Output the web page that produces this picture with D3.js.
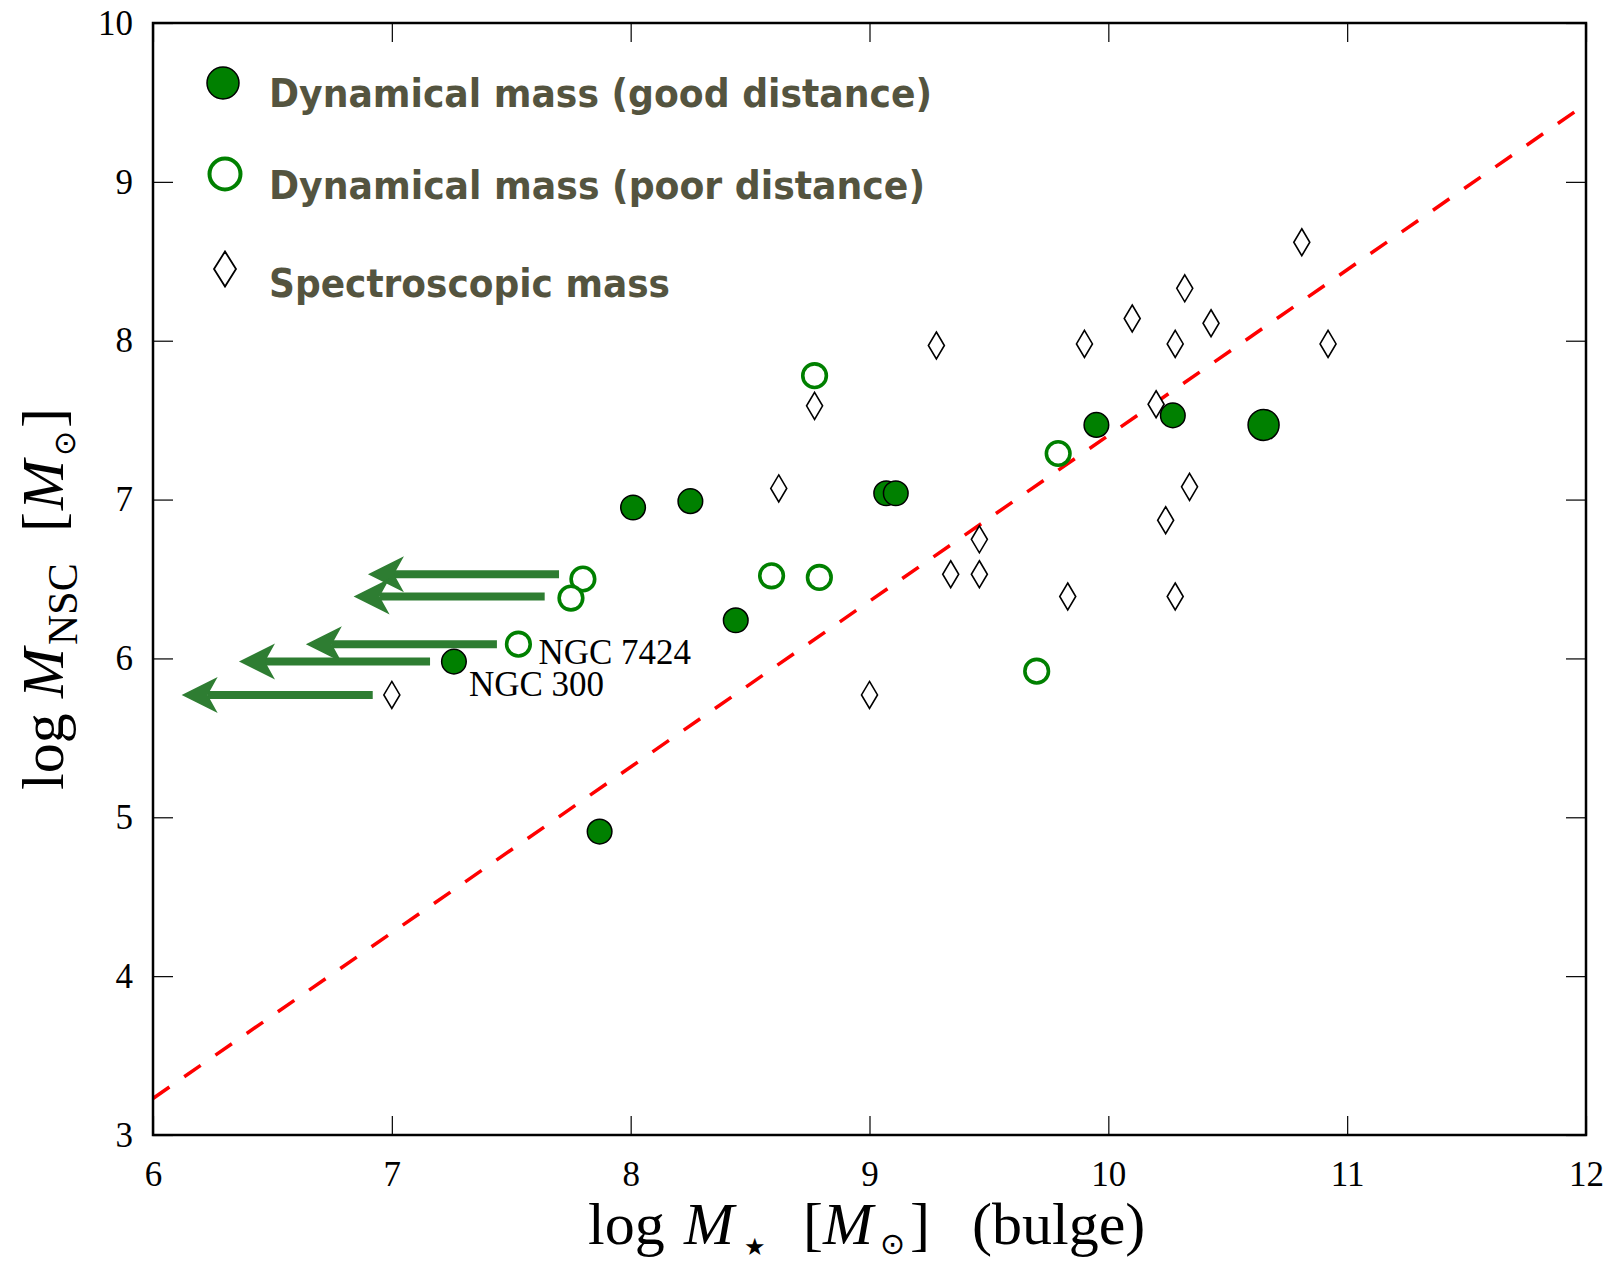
<!DOCTYPE html>
<meta charset="utf-8">
<script src="https://cdn.jsdelivr.net/npm/d3@7"></script>
<style>
    body { margin: 0; background: #fff; }
    svg text { font-family: "Liberation Serif", "Times New Roman", serif; }
    .legend text { font-family: "DejaVu Sans Condensed", "DejaVu Sans", sans-serif; font-weight: bold; fill: #54543f; }
</style>
<body>
<script>
    // nuclear star cluster mass vs bulge mass
    // dynamical masses, good distance
    var goodX = [7.26, 7.87, 8.01, 8.25, 8.44, 9.07, 9.11, 9.95, 10.27, 10.65];
    var goodY = [5.98, 4.91, 6.95, 6.99, 6.24, 7.04, 7.04, 7.47, 7.53, 7.47];
    // dynamical masses, poor distance
    var poorX = [7.53, 7.80, 7.75, 8.59, 8.77, 8.79, 9.70, 9.79];
    var poorY = [6.09, 6.50, 6.38, 6.52, 7.78, 6.51, 5.92, 7.29];
    // spectroscopic masses
    var specX = [7.00, 8.62, 8.77, 9.00, 9.28, 9.34, 9.46, 9.46, 9.83, 9.90, 10.10, 10.20, 10.24, 10.28, 10.28, 10.32, 10.34, 10.43, 10.81, 10.92];
    var specY = [5.77, 7.07, 7.59, 5.77, 7.97, 6.53, 6.53, 6.75, 6.39, 7.98, 8.14, 7.60, 6.87, 7.98, 6.39, 8.33, 7.08, 8.11, 8.62, 7.98];
    // upper limits on bulge mass (arrows)
    var limY = [6.53, 6.39, 6.09, 5.98, 5.77];
    var limFrom = [7.70, 7.64, 7.44, 7.16, 6.92];
    var limTo = [6.90, 6.84, 6.64, 6.36, 6.12];
    // fitted relation
    var fitX = [6, 12];
    var fitY = [3.23, 9.49];
    // tick values
    var xTicks = [6, 7, 8, 9, 10, 11, 12];
    var yTicks = [3, 4, 5, 6, 7, 8, 9, 10];
    var legendLabels = ["Dynamical mass (good distance)", "Dynamical mass (poor distance)", "Spectroscopic mass"];

    var W = 1613, H = 1267;
    var margin = {top: 23, right: 27, bottom: 132, left: 153};
    var iw = W - margin.left - margin.right, ih = H - margin.top - margin.bottom;
    var green = "#008000", arrowGreen = "#2e7d32";
    var bigMarker = 9; // the NSC with the largest bulge is drawn larger

    var svg = d3.select("body").append("svg").attr("width", W).attr("height", H);
    svg.append("defs").append("clipPath").attr("id", "clip")
        .append("rect").attr("width", iw).attr("height", ih);
    var g = svg.append("g").attr("transform", "translate(" + margin.left + "," + margin.top + ")");

    var x = d3.scaleLinear().domain([6, 12]).range([0, iw]);
    var y = d3.scaleLinear().domain([3, 10]).range([ih, 0]);

    // axes, ticks pointing inwards
    function styleAxis(sel) {
        sel.select(".domain").remove();
        sel.selectAll(".tick line").attr("stroke", "#000").attr("stroke-width", 1.2);
        sel.selectAll(".tick text").attr("font-size", 35).attr("fill", "#000");
    }
    g.append("g").attr("transform", "translate(0," + ih + ")")
        .call(d3.axisBottom(x).tickValues(xTicks).tickSize(-19).tickPadding(26).tickFormat(d3.format("d")))
        .call(styleAxis);
    g.append("g")
        .call(d3.axisLeft(y).tickValues(yTicks).tickSize(-20).tickPadding(20).tickFormat(d3.format("d")))
        .call(styleAxis);
    g.append("g")
        .call(d3.axisTop(x).tickValues(xTicks).tickSize(-19).tickFormat(""))
        .call(styleAxis);
    g.append("g").attr("transform", "translate(" + iw + ",0)")
        .call(d3.axisRight(y).tickValues(yTicks).tickSize(-20).tickFormat(""))
        .call(styleAxis);

    var plot = g.append("g").attr("clip-path", "url(#clip)");

    // dashed relation
    plot.append("line")
        .attr("x1", x(fitX[0])).attr("y1", y(fitY[0]))
        .attr("x2", x(fitX[1])).attr("y2", y(fitY[1]))
        .attr("stroke", "red").attr("stroke-width", 3.5).attr("stroke-dasharray", "20,18");

    // arrows
    var arrows = plot.selectAll(".arrow").data(limY).enter().append("g").attr("class", "arrow");
    arrows.append("line")
        .attr("x1", function (d, i) { return x(limFrom[i]); })
        .attr("x2", function (d, i) { return x(limTo[i]) + 26; })
        .attr("y1", function (d) { return y(d); })
        .attr("y2", function (d) { return y(d); })
        .attr("stroke", arrowGreen).attr("stroke-width", 8);
    arrows.append("path")
        .attr("d", function (d, i) {
            var tx = x(limTo[i]), ty = y(d);
            return "M" + tx + "," + ty + "L" + (tx + 36) + "," + (ty - 18) + "L" + (tx + 26) + "," + ty +
                "L" + (tx + 36) + "," + (ty + 18) + "Z";
        })
        .attr("fill", arrowGreen);

    // spectroscopic diamonds
    function diamond(w, h) {
        return "M0," + (-h / 2) + "L" + (w / 2) + ",0L0," + (h / 2) + "L" + (-w / 2) + ",0Z";
    }
    plot.selectAll(".spec").data(specX).enter().append("path")
        .attr("transform", function (d, i) { return "translate(" + x(d) + "," + y(specY[i]) + ")"; })
        .attr("d", diamond(16, 27))
        .attr("fill", "#fff").attr("stroke", "#000").attr("stroke-width", 1.6);

    // poor-distance open circles
    plot.selectAll(".poor").data(poorX).enter().append("circle")
        .attr("cx", function (d) { return x(d); })
        .attr("cy", function (d, i) { return y(poorY[i]); })
        .attr("r", 11.8)
        .attr("fill", "#fff").attr("stroke", green).attr("stroke-width", 3.6);

    // good-distance filled circles
    plot.selectAll(".good").data(goodX).enter().append("circle")
        .attr("cx", function (d) { return x(d); })
        .attr("cy", function (d, i) { return y(goodY[i]); })
        .attr("r", function (d, i) { return i === bigMarker ? 15.5 : 12.3; })
        .attr("fill", green).attr("stroke", "#000").attr("stroke-width", 1.5);

    // galaxy labels
    g.append("text").attr("x", x(poorX[0]) + 20).attr("y", y(poorY[0]) + 20)
        .attr("font-size", 35).text("NGC 7424");
    g.append("text").attr("x", x(goodX[0]) + 15).attr("y", y(goodY[0]) + 34)
        .attr("font-size", 35).text("NGC 300");

    // frame
    g.append("rect").attr("width", iw).attr("height", ih)
        .attr("fill", "none").attr("stroke", "#000").attr("stroke-width", 2.5);

    // legend
    var legend = svg.append("g").attr("class", "legend");
    var legW = [663, 656, 401];
    legend.append("circle").attr("cx", 223).attr("cy", 83).attr("r", 16)
        .attr("fill", green).attr("stroke", "#000").attr("stroke-width", 1.5);
    legend.append("circle").attr("cx", 225).attr("cy", 174).attr("r", 15.5)
        .attr("fill", "#fff").attr("stroke", green).attr("stroke-width", 4);
    legend.append("path").attr("transform", "translate(225,269)").attr("d", diamond(22, 35))
        .attr("fill", "#fff").attr("stroke", "#000").attr("stroke-width", 1.8);
    legend.selectAll("text").data(legendLabels).enter().append("text")
        .attr("x", 269)
        .attr("y", function (d, i) { return [107, 199, 297][i]; })
        .attr("font-size", 39)
        .attr("textLength", function (d, i) { return legW[i]; })
        .attr("lengthAdjust", "spacingAndGlyphs")
        .text(function (d) { return d; });

    // axis titles
    var xt = svg.append("text").attr("y", 1244).attr("font-size", 60);
    xt.append("tspan").attr("x", 588).text("log");
    xt.append("tspan").attr("x", 684).attr("font-style", "italic").text("M");
    xt.append("tspan").attr("x", 744).attr("dy", 11).attr("font-size", 24).attr("font-family", "DejaVu Sans").text("\u2605");
    xt.append("tspan").attr("x", 803).attr("dy", -11).text("[");
    xt.append("tspan").attr("x", 823).attr("font-style", "italic").text("M");
    xt.append("tspan").attr("x", 880).attr("dy", 10).attr("font-size", 30).attr("font-family", "DejaVu Sans").text("\u2299");
    xt.append("tspan").attr("x", 910).attr("dy", -10).text("]");
    xt.append("tspan").attr("x", 972).text("(bulge)");

    var yt = svg.append("text").attr("transform", "rotate(-90)").attr("y", 63).attr("font-size", 60);
    yt.append("tspan").attr("x", -790).text("log");
    yt.append("tspan").attr("x", -698).attr("font-style", "italic").text("M");
    yt.append("tspan").attr("x", -645).attr("dy", 14).attr("font-size", 42).text("NSC");
    yt.append("tspan").attr("x", -532).attr("dy", -14).text("[");
    yt.append("tspan").attr("x", -510).attr("font-style", "italic").text("M");
    yt.append("tspan").attr("x", -456).attr("dy", 12).attr("font-size", 30).attr("font-family", "DejaVu Sans").text("\u2299");
    yt.append("tspan").attr("x", -428).attr("dy", -12).text("]");
</script>
</body>
